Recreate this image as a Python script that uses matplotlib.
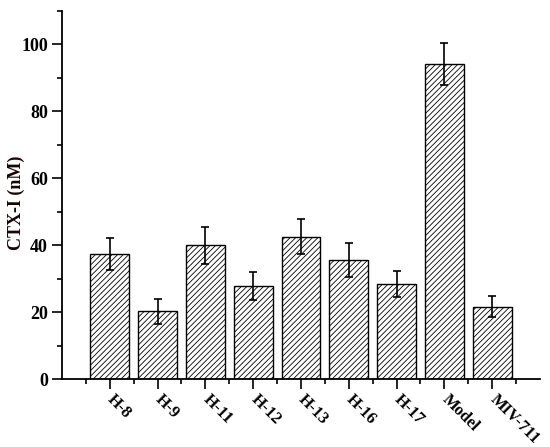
import numpy as np
import matplotlib.pyplot as plt
from matplotlib.ticker import MultipleLocator

# data
groups = ['H-8', 'H-9', 'H-11', 'H-12', 'H-13', 'H-16', 'H-17', 'Model', 'MIV-711']
values = [37.3, 20.3, 40.0, 27.8, 42.6, 35.5, 28.4, 94.1, 21.6]
errors = [4.8, 3.7, 5.5, 4.3, 5.2, 5.1, 4.0, 6.2, 3.2]

plt.rcParams['font.family'] = 'Liberation Serif'
plt.rcParams['font.weight'] = 'bold'
plt.rcParams['hatch.linewidth'] = 0.6

fig = plt.figure(figsize=(5.5, 4.47), dpi=100)
ax = fig.add_axes([0.1127, 0.152, 0.8691, 0.8234])

x = np.arange(1, len(groups) + 1)
ax.bar(x, values, width=0.81, color='white', edgecolor='black', linewidth=1.0,
       hatch='//////', yerr=errors, capsize=3,
       error_kw=dict(elinewidth=1.2, capthick=1.2, ecolor='black'))

ax.set_xlim(0, 10)
ax.set_ylim(0, 110)
ax.set_xticks(x)
ax.set_xticklabels(groups, rotation=-45, ha='left', va='center', rotation_mode='anchor',
                   fontsize=12, fontweight='bold')
ax.set_xticks(np.arange(0.5, 10.5, 1), minor=True)
ax.yaxis.set_major_locator(MultipleLocator(20))
ax.yaxis.set_minor_locator(MultipleLocator(10))
ax.tick_params(axis='both', which='major', direction='out', length=7, width=1.2, labelsize=13)
ax.tick_params(axis='both', which='minor', direction='out', length=3.5, width=1.2)
ax.tick_params(axis='x', which='major', pad=6, labelsize=12)
ax.tick_params(axis='y', which='major', pad=3)
for lbl in ax.get_yticklabels():
    lbl.set_fontweight('bold')

for side in ['top', 'right']:
    ax.spines[side].set_visible(False)
for side in ['left', 'bottom']:
    ax.spines[side].set_linewidth(1.3)

ax.set_ylabel('CTX-I (nM)', fontsize=13, fontweight='bold', color='#1a0505')
ax.yaxis.set_label_coords(-0.078, 0.478)

fig.savefig('out.png', dpi=100)
